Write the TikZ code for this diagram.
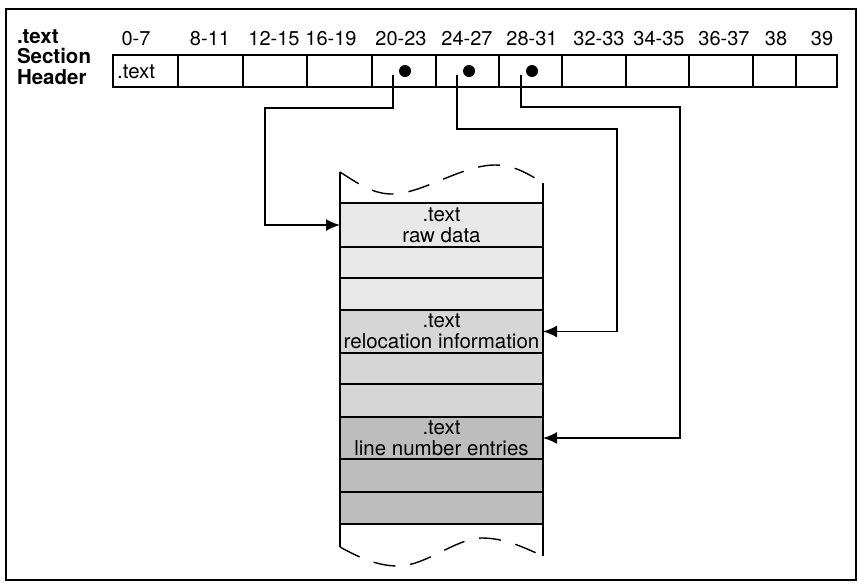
\documentclass[tikz,border=0pt]{standalone}
\usepackage{fontspec}
\setmainfont{TeX Gyre Heros}
\usetikzlibrary{arrows.meta}
\definecolor{lightdots}{gray}{0.91}
\definecolor{middots}{gray}{0.84}
\definecolor{darkdots}{gray}{0.74}
\tikzset{
  hdrcell/.style={draw=black,line width=1.6pt,anchor=north west,minimum height=32pt,inner sep=0pt,outer sep=0pt},
  datarow/.style={draw=black,line width=1.6pt,anchor=north west,minimum width=203pt,inner sep=0pt,outer sep=0pt,align=center,font=\fontsize{20.5}{21}\selectfont},
  bytelbl/.style={inner sep=0pt,outer sep=0pt,anchor=base,font=\fontsize{20}{22}\selectfont},
  sidelbl/.style={inner sep=0pt,outer sep=0pt,anchor=base west,font=\bfseries\fontsize{20.5}{22}\selectfont},
  ptrdot/.style={circle,fill=black,inner sep=0pt,minimum size=12pt},
  ptrlink/.style={draw=black,line width=1.7pt,-{Latex[length=14pt,width=12pt]}},
  brokenedge/.style={draw=black,line width=1.4pt,dash pattern=on 22pt off 15pt},
}
\begin{document}
\begin{tikzpicture}[x=1pt,y=-1pt]
\path[use as bounding box] (0,0) rectangle (858,582);
% frame
\draw[line width=1.6pt] (6,9) rectangle (856,580);
% section header title
\node[sidelbl] (title1) at (17,43) {.text};
\node[sidelbl] (title2) at (17,63) {Section};
\node[sidelbl] (title3) at (17,84) {Header};
% header fields
\node[hdrcell,minimum width=65pt] (c0) at (113,55) {};
\node[hdrcell,minimum width=65pt] (c1) at (178,55) {};
\node[hdrcell,minimum width=64pt] (c2) at (243,55) {};
\node[hdrcell,minimum width=65pt] (c3) at (307,55) {};
\node[hdrcell,minimum width=64pt] (c4) at (372,55) {};
\node[hdrcell,minimum width=63pt] (c5) at (436,55) {};
\node[hdrcell,minimum width=63pt] (c6) at (499,55) {};
\node[hdrcell,minimum width=64pt] (c7) at (562,55) {};
\node[hdrcell,minimum width=63pt] (c8) at (626,55) {};
\node[hdrcell,minimum width=64pt] (c9) at (689,55) {};
\node[hdrcell,minimum width=43pt] (c10) at (753,55) {};
\node[hdrcell,minimum width=41pt] (c11) at (796,55) {};
\node[inner sep=0pt,anchor=base west,font=\fontsize{20.5}{22}\selectfont] (c0txt) at (117,78) {.text};
% byte offsets
\node[bytelbl] (b0) at (136,45) {0-7};
\node[bytelbl] (b1) at (210,45) {8-11};
\node[bytelbl] (b2) at (274,45) {12-15};
\node[bytelbl] (b3) at (331,45) {16-19};
\node[bytelbl] (b4) at (401,45) {20-23};
\node[bytelbl] (b5) at (467,45) {24-27};
\node[bytelbl] (b6) at (532,45) {28-31};
\node[bytelbl] (b7) at (599,45) {32-33};
\node[bytelbl] (b8) at (659,45) {34-35};
\node[bytelbl] (b9) at (724,45) {36-37};
\node[bytelbl] (b10) at (776,45) {38};
\node[bytelbl] (b11) at (822,45) {39};
% pointer fields
\node[ptrdot] (d1) at (405,71) {};
\node[ptrdot] (d2) at (469,71) {};
\node[ptrdot] (d3) at (532,71) {};
% section data
\node[datarow,fill=lightdots,minimum height=44pt] (raw) at (340,203) {.text\\raw data};
\node[datarow,fill=lightdots,minimum height=31pt] (raw2) at (340,247) {};
\node[datarow,fill=lightdots,minimum height=32pt] (raw3) at (340,278) {};
\node[datarow,fill=middots,minimum height=43pt] (reloc) at (340,310) {.text\\relocation information};
\node[datarow,fill=middots,minimum height=31pt] (reloc2) at (340,353) {};
\node[datarow,fill=middots,minimum height=33pt] (reloc3) at (340,384) {};
\node[datarow,fill=darkdots,minimum height=42pt] (lines) at (340,417) {.text\\line number entries};
\node[datarow,fill=darkdots,minimum height=33pt] (lines2) at (340,459) {};
\node[datarow,fill=darkdots,minimum height=32pt] (lines3) at (340,492) {};
% broken-off ends of the file
\coordinate (tl) at (340,172);
\coordinate (tr) at (543,183);
\coordinate (bl) at (340,547);
\coordinate (br) at (543,556);
\draw[line width=1.6pt] (tl) -- (bl);
\draw[line width=1.6pt] (tr) -- (br);
\draw[brokenedge] (tl) .. controls (360,185) and (374,194) .. (392,194) .. controls (422,194) and (462,165) .. (495,165) .. controls (515,165) and (530,175) .. (tr);
\draw[brokenedge] (bl) .. controls (360,558) and (378,566) .. (398,566) .. controls (426,566) and (456,538) .. (482,538) .. controls (505,538) and (525,548) .. (br);
% pointers
\coordinate (s1) at ([xshift=-12pt,yshift=-4pt]d1.center);
\coordinate (s2) at ([xshift=-12pt,yshift=-4pt]d2.center);
\coordinate (s3) at ([xshift=-11pt,yshift=-4pt]d3.center);
\coordinate (k1) at (265,108);
\coordinate (k2) at (617,129);
\coordinate (k3) at (680,107);
\draw[ptrlink] (s1) |- (k1) |- (raw.west);
\draw[ptrlink] (s2) |- (k2) |- (reloc.east);
\draw[ptrlink] (s3) |- (k3) |- (lines.east);
\end{tikzpicture}
\end{document}
